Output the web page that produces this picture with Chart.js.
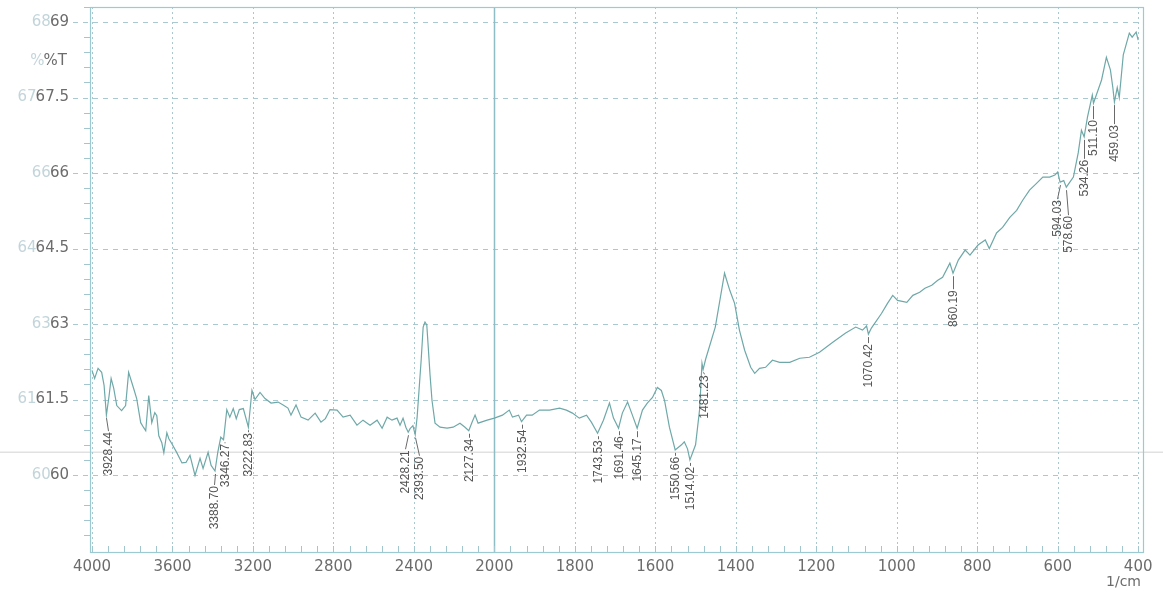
<!DOCTYPE html>
<html>
<head>
<meta charset="utf-8">
<script src="https://cdn.jsdelivr.net/npm/chart.js@4.4.1/dist/chart.umd.min.js"></script>
<style>
  html, body { margin: 0; padding: 0; background: #ffffff; }
  #wrap { width: 1163px; height: 595px; position: relative; }
  canvas { display: block; }
</style>
</head>
<body>
<div id="wrap"><canvas id="ir" width="1163" height="595"></canvas></div>
<script>
// FTIR spectrum: wavenumber (1/cm) against transmittance (%T)
const wavenumbers = [
  4000, 3987, 3970, 3952, 3940, 3928.44, 3915, 3905, 3892, 3877, 3853, 3833, 3818, 3793, 3778,
  3758, 3743, 3733, 3718, 3703, 3688, 3678, 3668, 3653, 3643, 3628, 3618, 3603, 3578, 3553,
  3533, 3513, 3488, 3463, 3448, 3423, 3408, 3388.70, 3375, 3360, 3346.27, 3330, 3315, 3298, 3283,
  3268, 3248, 3222.83, 3205, 3190, 3165, 3140, 3110, 3075, 3050, 3026, 3011, 2986, 2961, 2926,
  2891, 2862, 2840, 2817, 2782, 2752, 2717, 2683, 2653, 2618, 2583, 2558, 2533, 2509, 2484,
  2469, 2454, 2440, 2428.21, 2419, 2405, 2393.50, 2384, 2364, 2354, 2345, 2336, 2328, 2320, 2310,
  2295, 2270, 2235, 2205, 2171, 2146, 2127.34, 2111, 2096, 2081, 2036, 2000,
  1980, 1963, 1955, 1940, 1932.54, 1920, 1906, 1888, 1863, 1838, 1821, 1806, 1789, 1771, 1759,
  1743.53, 1729, 1714, 1704, 1691.46, 1682, 1669, 1657, 1645.17, 1632, 1620, 1607, 1595, 1585, 1577,
  1565, 1550.66, 1535, 1528, 1520, 1514.02, 1500, 1490, 1484, 1481.23, 1475, 1451, 1428, 1415, 1403,
  1391, 1378, 1363, 1353, 1341, 1326, 1309, 1291, 1266, 1241, 1217, 1192, 1159, 1127, 1102,
  1085, 1075, 1070.42, 1063, 1038, 1023, 1010, 998, 975, 960, 943, 930, 913, 898, 886,
  868, 860.19, 847, 830, 818, 798, 780, 770, 752, 737, 719, 702, 687, 670, 652,
  637, 620, 607, 600, 594.03, 585, 578.60, 561, 549, 541, 534.26, 526, 514, 511.10, 491,
  479, 469, 463, 459.03, 452, 447, 437, 422, 415, 405, 400
];
const transmittance = [
  62.08, 61.92, 62.12, 62.04, 61.78, 61.19, 61.58, 61.92, 61.72, 61.38, 61.28, 61.38, 62.04, 61.72, 61.52,
  61.04, 60.94, 60.88, 61.58, 61.04, 61.24, 61.18, 60.78, 60.64, 60.44, 60.84, 60.72, 60.62, 60.44, 60.24,
  60.25, 60.39, 59.99, 60.33, 60.13, 60.45, 60.19, 60.08, 60.45, 60.75, 60.70, 61.30, 61.15, 61.32, 61.12,
  61.30, 61.32, 60.95, 61.68, 61.50, 61.64, 61.52, 61.43, 61.45, 61.39, 61.33, 61.19, 61.39, 61.15, 61.09,
  61.23, 61.05, 61.12, 61.30, 61.29, 61.15, 61.19, 60.99, 61.09, 60.99, 61.09, 60.93, 61.15, 61.09, 61.13,
  60.99, 61.13, 60.95, 60.85, 60.92, 60.98, 60.80, 61.15, 62.28, 62.94, 63.04, 62.98, 62.50, 62.00, 61.48,
  61.03, 60.95, 60.93, 60.95, 61.03, 60.95, 60.88, 61.05, 61.19, 61.03, 61.09, 61.13,
  61.19, 61.29, 61.15, 61.19, 61.06, 61.19, 61.19, 61.29, 61.29, 61.33, 61.29, 61.23, 61.13, 61.19, 61.05,
  60.83, 61.09, 61.43, 61.13, 60.93, 61.23, 61.45, 61.19, 60.93, 61.29, 61.43, 61.54, 61.74, 61.68, 61.48,
  60.95, 60.50, 60.60, 60.66, 60.52, 60.30, 60.60, 61.30, 62.22, 62.10, 62.30, 62.94, 64.01, 63.67, 63.41,
  62.88, 62.48, 62.14, 62.02, 62.12, 62.14, 62.28, 62.24, 62.24, 62.32, 62.34, 62.44, 62.64, 62.82, 62.94,
  62.88, 62.96, 62.80, 62.92, 63.21, 63.41, 63.57, 63.47, 63.43, 63.57, 63.63, 63.71, 63.77, 63.87, 63.93,
  64.21, 64.01, 64.27, 64.47, 64.37, 64.57, 64.67, 64.50, 64.81, 64.92, 65.12, 65.26, 65.46, 65.66, 65.80,
  65.92, 65.92, 65.96, 66.02, 65.82, 65.85, 65.72, 65.92, 66.40, 66.85, 66.72, 67.11, 67.55, 67.39, 67.85,
  68.30, 68.05, 67.70, 67.41, 67.70, 67.50, 68.35, 68.78, 68.70, 68.80, 68.64
];

// Marked absorption bands (their text is the wavenumber itself)
const peakWavenumbers = [
  3928.44, 3388.70, 3346.27, 3222.83, 2428.21, 2393.50, 2127.34, 1932.54, 1743.53, 1691.46,
  1645.17, 1550.66, 1514.02, 1481.23, 1070.42, 860.19, 594.03, 578.60, 534.26, 511.10, 459.03
];

// Axis ticks
const xTickValues = [4000, 3600, 3200, 2800, 2400, 2000, 1800, 1600, 1400, 1200, 1000, 800, 600, 400];
const xTickLabels = ['4000', '3600', '3200', '2800', '2400', '2000', '1800', '1600', '1400', '1200', '1000', '800', '600', '400'];
const yTickValues = [60, 61.5, 63, 64.5, 66, 67.5, 69];
const yTickLabels = ['60', '61.5', '63', '64.5', '66', '67.5', '69'];
const yGhostLabels = ['60', '61', '63', '64', '66', '67', '68'];

// The wavenumber axis is drawn at double expansion below 2000 1/cm
function toAxis(wn) {
  return wn >= 2000 ? (4000 - wn) / 2 : 1000 + (2000 - wn);
}

// Leader geometry for each band label: drop (px) from trough to text, sideways nudge (px)
const leaderDrop = [17, 15, 4, 6, 18, 22, 8, 8, 7, 8, 10, 7, 7, 6, 10, 17, 18, 29, 23, 17, 23];
const leaderShift = [2, -1, 1, 0, -3, 4, 0, 0, 0, 0, 0, 0, 0, 1, 0, 0, -3, 2, 0, 0, 0];

const GRID = '#a9c8d0';
const AXIS = '#9ccad2';
const TEXT = '#6c6c6c';

const frame = {
  id: 'frame',
  beforeDatasetsDraw(chart) {
    const { ctx, chartArea: a, scales: { x, y } } = chart;
    ctx.save();
    // faint scan line across the sheet
    ctx.strokeStyle = 'rgba(200,200,200,0.55)';
    ctx.lineWidth = 1.5;
    ctx.beginPath();
    const yScan = y.getPixelForValue(60.45);
    ctx.moveTo(0, yScan); ctx.lineTo(chart.width, yScan); ctx.stroke();

    // horizontal dashed grid, running out past the axis as major ticks
    ctx.strokeStyle = GRID;
    ctx.lineWidth = 1;
    ctx.setLineDash([5, 5]);
    yTickValues.forEach(v => {
      const py = Math.round(y.getPixelForValue(v)) + 0.5;
      ctx.beginPath(); ctx.moveTo(a.left - 17, py); ctx.lineTo(a.right, py); ctx.stroke();
    });
    // vertical dotted grid
    ctx.setLineDash([2, 3]);
    xTickValues.forEach(w => {
      if (w === 2000) return;
      const px = Math.round(x.getPixelForValue(toAxis(w))) + 0.5;
      ctx.beginPath(); ctx.moveTo(px, a.top); ctx.lineTo(px, a.bottom); ctx.stroke();
    });
    ctx.setLineDash([]);
    // scale-change line at 2000
    ctx.strokeStyle = '#8fbdc6';
    ctx.lineWidth = 1.5;
    const p2000 = Math.round(x.getPixelForValue(toAxis(2000))) + 0.5;
    ctx.beginPath(); ctx.moveTo(p2000, a.top); ctx.lineTo(p2000, a.bottom); ctx.stroke();
    // plot frame
    ctx.strokeStyle = AXIS;
    ctx.lineWidth = 1.2;
    ctx.strokeRect(Math.round(a.left) + 0.5, Math.round(a.top) + 0.5, Math.round(a.right - a.left), Math.round(a.bottom - a.top));
    // minor ticks
    ctx.strokeStyle = '#a3c6ce';
    ctx.lineWidth = 1;
    for (let k = -5; k <= 31; k++) {
      if (k % 5 === 0) continue;
      const v = 60 + k * 0.3;
      if (v < y.min || v > y.max) continue;
      const py = Math.round(y.getPixelForValue(v)) + 0.5;
      ctx.beginPath(); ctx.moveTo(a.left - 6, py); ctx.lineTo(a.left, py); ctx.stroke();
    }
    for (let k = 0; k <= 65; k++) {
      const px = Math.round(x.getPixelForValue(k * 40)) + 0.5;
      ctx.beginPath(); ctx.moveTo(px, a.bottom); ctx.lineTo(px, a.bottom - 6); ctx.stroke();
    }
    ctx.restore();
  },
  afterDraw(chart) {
    const { ctx, chartArea: a, scales: { x, y } } = chart;
    ctx.save();
    // ghost print beside the y labels
    ctx.font = '15px "DejaVu Sans"';
    ctx.textBaseline = 'middle';
    ctx.textAlign = 'right';
    const labelRight = a.left - 21;
    yTickValues.forEach((v, i) => {
      const w = ctx.measureText(yTickLabels[i]).width;
      ctx.fillStyle = '#c2d5da';
      ctx.fillText(yGhostLabels[i], labelRight - w + 1, y.getPixelForValue(v));
    });
    // axis titles
    ctx.fillStyle = '#c2d5da';
    const wT = ctx.measureText('%T').width;
    ctx.fillText('%', labelRight - 2 - wT + 1, 61);
    ctx.fillStyle = TEXT;
    ctx.fillText('%T', labelRight - 2, 61);
    ctx.font = '14px "DejaVu Sans"';
    ctx.fillText('1/cm', a.right - 2, 582);

    // band labels with leaders
    ctx.font = '12px "Liberation Sans"';
    peakWavenumbers.forEach((wn, i) => {
      const idx = wavenumbers.indexOf(wn);
      const px = Math.round(x.getPixelForValue(toAxis(wn))) + 0.5;
      const py = y.getPixelForValue(transmittance[idx]);
      const top = py + leaderDrop[i];
      const tx = px + leaderShift[i];
      ctx.strokeStyle = '#6a6a6a';
      ctx.lineWidth = 1;
      ctx.beginPath(); ctx.moveTo(px, py + 3); ctx.lineTo(tx, top - 1); ctx.stroke();
      ctx.save();
      ctx.translate(tx, top);
      ctx.rotate(-Math.PI / 2);
      ctx.textAlign = 'right';
      ctx.textBaseline = 'middle';
      ctx.fillStyle = '#555555';
      ctx.fillText(wn.toFixed(2), 0, 0.5);
      ctx.restore();
    });
    ctx.restore();
  }
};

const points = wavenumbers.map((wn, i) => ({ x: toAxis(wn), y: transmittance[i] }));

// keep the plot box fixed: no extra room for half-labels at the ends of each axis
function fixBox(size, dim) {
  return s => {
    s[dim] = size;
    s.paddingTop = 0; s.paddingBottom = 0; s.paddingLeft = 0; s.paddingRight = 0;
  };
}

new Chart(document.getElementById('ir'), {
  type: 'line',
  data: {
    datasets: [{
      data: points,
      borderColor: '#6fa8a8',
      borderWidth: 1.2,
      pointRadius: 0,
      tension: 0,
      fill: false
    }]
  },
  options: {
    responsive: false,
    animation: false,
    devicePixelRatio: 1,
    layout: { padding: { top: 7, right: 20, left: 0, bottom: 0 } },
    plugins: { legend: { display: false }, tooltip: { enabled: false } },
    scales: {
      x: {
        type: 'linear',
        min: toAxis(4010),
        max: toAxis(388),
        afterBuildTicks: s => { s.ticks = xTickValues.map(w => ({ value: toAxis(w) })); },
        afterFit: fixBox(43, 'height'),
        grid: { display: false, drawTicks: false },
        border: { display: false },
        ticks: {
          autoSkip: false,
          maxRotation: 0,
          padding: 6,
          color: TEXT,
          font: { family: 'DejaVu Sans', size: 15 },
          callback: (v, i) => xTickLabels[i]
        }
      },
      y: {
        type: 'linear',
        min: 58.47,
        max: 69.30,
        afterBuildTicks: s => { s.ticks = yTickValues.map(v => ({ value: v })); },
        afterFit: fixBox(90, 'width'),
        grid: { display: false, drawTicks: false },
        border: { display: false },
        ticks: {
          autoSkip: false,
          padding: 21,
          color: TEXT,
          font: { family: 'DejaVu Sans', size: 15 },
          callback: (v, i) => yTickLabels[i]
        }
      }
    }
  },
  plugins: [frame]
});
</script>
</body>
</html>
